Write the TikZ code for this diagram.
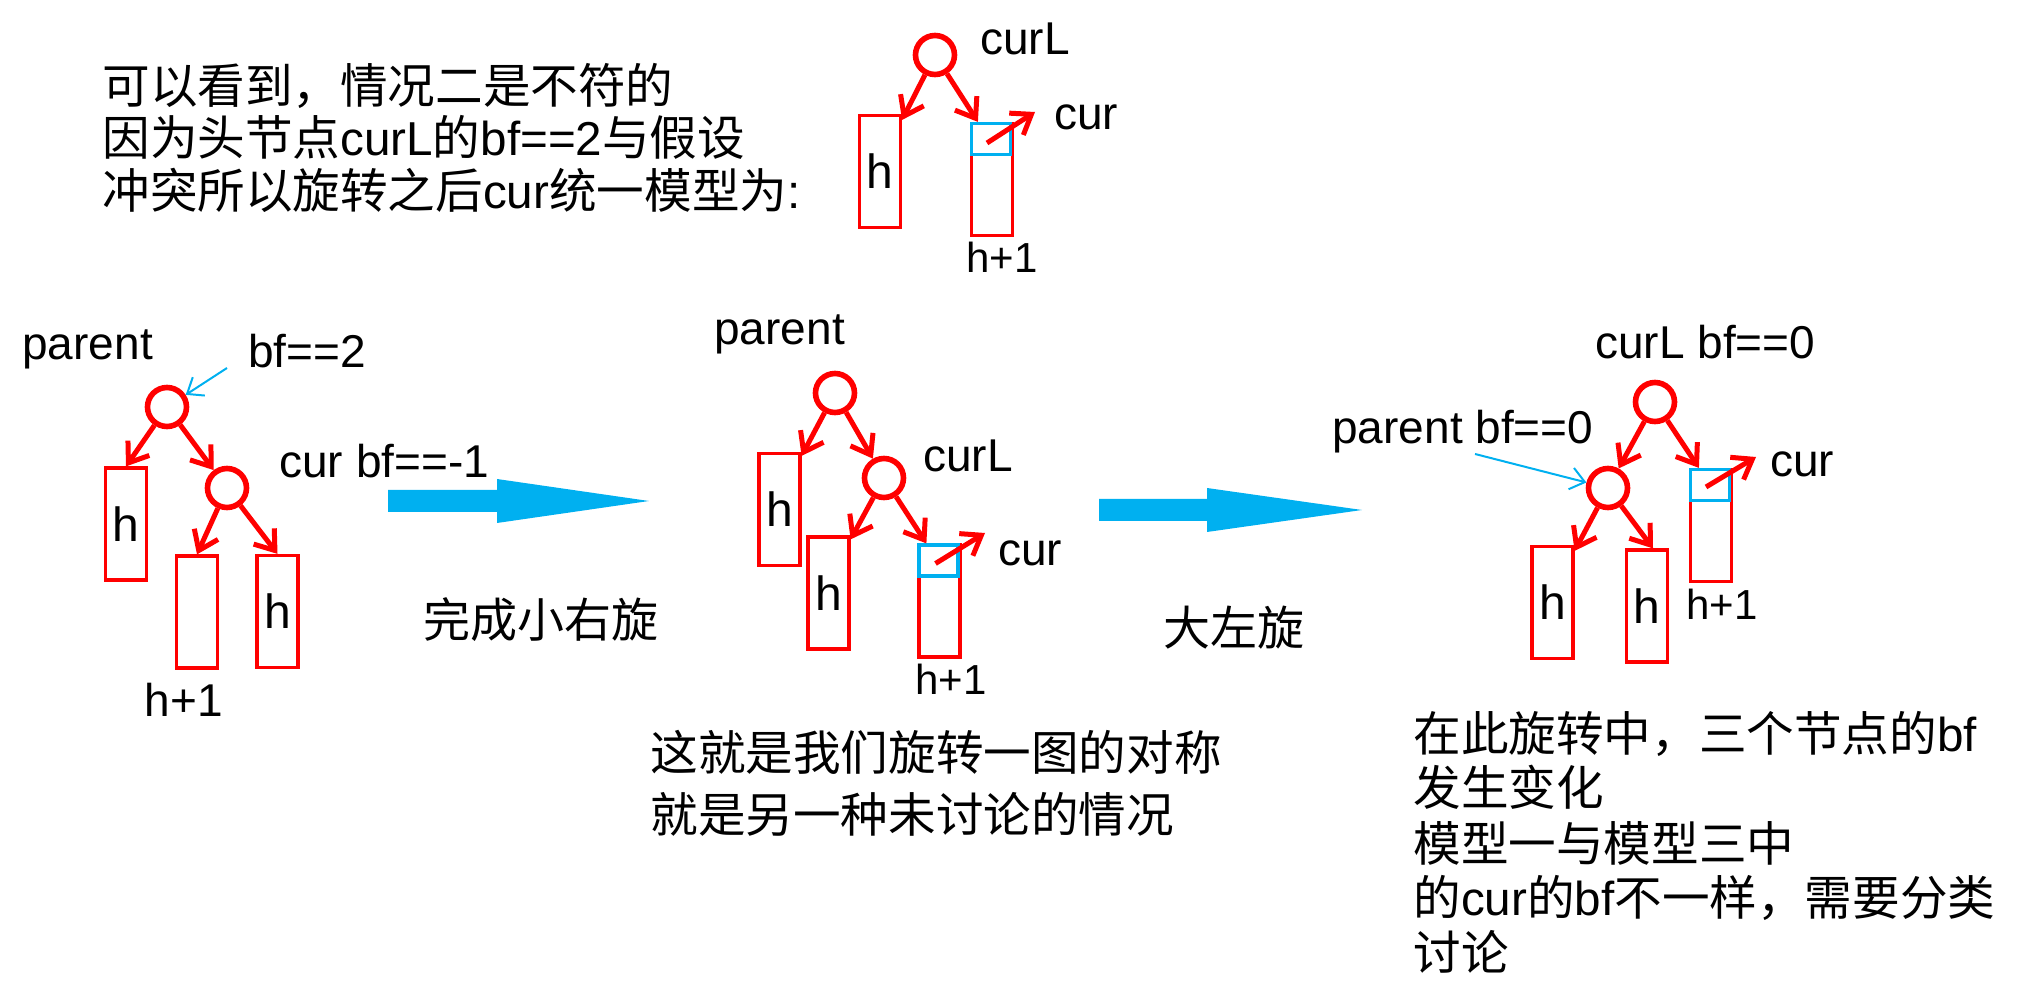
\documentclass[tikz,border=0pt]{standalone}
\usepackage{fontspec}
\setmainfont{Liberation Sans}
\newfontfamily\cjk{Noto Sans CJK SC}
\usetikzlibrary{arrows.meta,calc}
\definecolor{redc}{RGB}{255,0,0}
\definecolor{bluec}{RGB}{0,176,240}
\begin{document}
\begin{tikzpicture}[x=0.5pt,y=-0.5pt,
  lab/.style={font=\fontsize{23}{27}\selectfont, inner sep=0pt, anchor=base west},
  small/.style={font=\fontsize{21}{25}\selectfont, inner sep=0pt, anchor=base west},
  txtline/.style={font=\fontsize{23.8}{28}\selectfont, inner sep=0pt, anchor=west, text height=20.9pt, text depth=2.9pt},
  cnc/.style={font=\fontsize{23.5}{28}\selectfont\cjk, inner sep=0pt, anchor=center, text height=20.7pt, text depth=2.8pt},
  tnode/.style={circle, draw=redc, line width=2.8pt, minimum size=19.5pt, inner sep=0pt},
  hbox/.style={rectangle, draw=redc, line width=1.6pt, minimum width=20.5pt, minimum height=56pt, inner sep=0pt, font=\fontsize{24}{28}\selectfont},
  curbox/.style={rectangle, draw=bluec, line width=1.6pt, minimum width=19.5pt, minimum height=15.5pt, inner sep=0pt, anchor=north west},
  redarr/.style={draw=redc, line width=2.5pt, -{Straight Barb[length=9pt,width=13pt]}},
  bluearr/.style={draw=bluec, line width=1pt, -{Straight Barb[length=7pt,width=11pt]}},
  bigarr/.style={fill=bluec}
]
\useasboundingbox (0,0) rectangle (2020,1004);

% ---------- top-left text ----------
\node[txtline] (x1) at (102,86) {\cjk 可以看到，情况二是不符的};
\node[txtline] (x2) at (102,138) {{\cjk 因为头节点}curL{\cjk 的}bf==2{\cjk 与假设}};
\node[txtline] (x3) at (102,191) {{\cjk 冲突所以旋转之后}cur{\cjk 统一模型为}:};

% ---------- tree 1 (top) ----------
\node[tnode] (C0) at (935,55) {};
\node[hbox] (L0) at (880,171.5) {h};
\node[hbox] (R0) at (992,179.5) {};
\node[curbox] (B0) at (R0.north west) {};
\draw[redarr] (C0) -- ([yshift=-3pt]L0.north east);
\draw[redarr] (C0) -- ([xshift=4pt]R0.north west);
\coordinate (k0) at (1035,112);
\draw[redarr] ([shift={(-2pt,-2pt)}]B0.center) -- (k0);
\node[lab] (t0a) at (980,55) {curL};
\node[lab] (t0b) at (1054,130) {cur};
\node[small] (t0c) at (966,273) {h+1};

% ---------- tree 2 (left) ----------
\node[tnode] (P1) at (167,407) {};
\node[tnode] (C1) at (227,488) {};
\node[hbox] (L1) at (126,524) {h};
\node[hbox] (M1) at (197,612) {};
\node[hbox] (R1) at (277.5,611.5) {h};
\draw[redarr] (P1) -- (L1.north);
\draw[redarr] (P1) -- (C1);
\draw[redarr] (C1) -- (M1.north);
\draw[redarr] (C1) -- (R1.north);
\node[lab] (t1a) at (22,360) {parent};
\node[lab] (t1b) at (248,368) {bf==2};
\coordinate (a1) at (227,368);
\draw[bluearr] (a1) -- (P1);
\node[lab] (t1c) at (279,478) {cur bf==-1};
\node[small, anchor=base, font=\fontsize{23}{27}\selectfont] (t1d) at (184,717) {h+1};

% big arrow 1
\fill[bigarr] (388,490) -- (497,490) -- (497,479) -- (649,501) -- (497,523) -- (497,512) -- (388,512) -- cycle;
\node[cnc] (r1) at (541,620) {完成小右旋};

% ---------- tree 3 (middle) ----------
\node[tnode] (P2) at (835,393) {};
\node[tnode] (C2) at (884,478) {};
\node[hbox] (L2) at (779.5,509.5) {h};
\node[hbox] (M2) at (828.5,593) {h};
\node[hbox] (R2) at (939.5,601) {};
\node[curbox] (B2) at (R2.north west) {};
\draw[redarr] (P2) -- ([yshift=-2pt]L2.north east);
\draw[redarr] (P2) -- (C2);
\draw[redarr] (C2) -- ([yshift=-2pt]M2.north east);
\draw[redarr] (C2) -- ([xshift=4.5pt]R2.north west);
\coordinate (k2) at (985,533);
\draw[redarr] ([shift={(-1.5pt,-1.5pt)}]B2.center) -- (k2);
\node[lab] (t2a) at (714,345) {parent};
\node[lab] (t2b) at (923,472) {curL};
\node[lab] (t2c) at (998,566) {cur};
\node[small] (t2d) at (915,695) {h+1};

\node[txtline] (x4) at (650,753) {\cjk 这就是我们旋转一图的对称};
\node[txtline] (x5) at (650,815) {\cjk 就是另一种未讨论的情况};

% big arrow 2
\fill[bigarr] (1099,499) -- (1207,499) -- (1207,488) -- (1362,510) -- (1207,532) -- (1207,521) -- (1099,521) -- cycle;
\node[cnc] (r2) at (1234,628) {大左旋};

% ---------- tree 4 (right) ----------
\node[tnode] (T4) at (1655,402) {};
\node[tnode] (P4) at (1608,488) {};
\node[hbox] (L4) at (1552.5,602.5) {h};
\node[hbox] (M4) at (1647,606) {h};
\node[hbox] (R4) at (1711,525.5) {};
\node[curbox] (B4) at (R4.north west) {};
\draw[redarr] (T4) -- (P4);
\draw[redarr] (T4) -- ([xshift=5pt]R4.north west);
\draw[redarr] (P4) -- ([yshift=-3pt]L4.north east);
\draw[redarr] (P4) -- ([xshift=3pt]M4.north);
\coordinate (k4) at (1756,457);
\draw[redarr] ([shift={(-2pt,-1pt)}]B4.center) -- (k4);
\node[lab] (t4a) at (1595,359) {curL bf==0};
\node[lab] (t4b) at (1332,444) {parent bf==0};
\coordinate (a4) at (1475,454);
\draw[bluearr] (a4) -- (P4);
\node[lab] (t4c) at (1770,477) {cur};
\node[small] (t4d) at (1686,620) {h+1};

\node[txtline] (y1) at (1413,734) {{\cjk 在此旋转中，三个节点的}bf};
\node[txtline] (y2) at (1413,788) {\cjk 发生变化};
\node[txtline] (y3) at (1413,844) {\cjk 模型一与模型三中};
\node[txtline] (y4) at (1413,898) {{\cjk 的}cur{\cjk 的}bf{\cjk 不一样，需要分类}};
\node[txtline] (y5) at (1413,953) {\cjk 讨论};
\end{tikzpicture}
\end{document}
